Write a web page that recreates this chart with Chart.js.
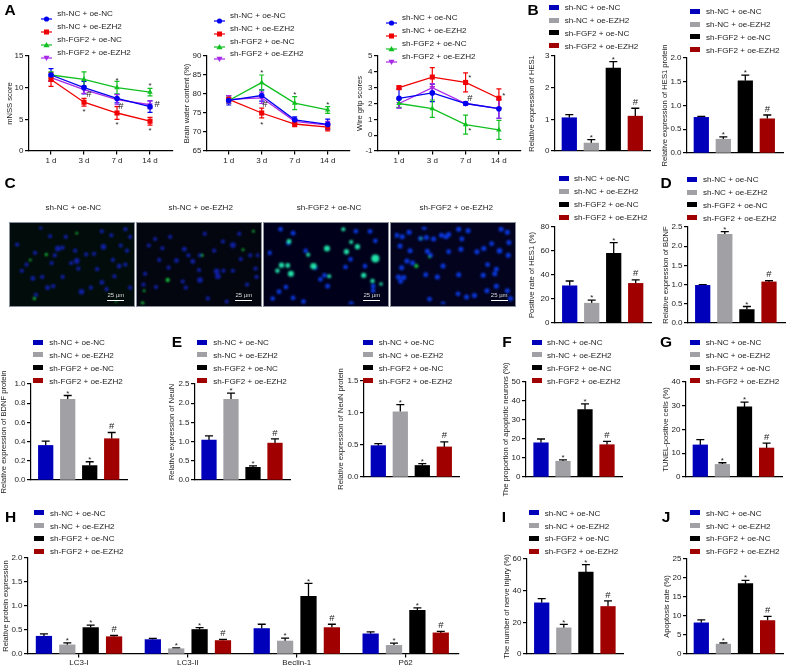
<!DOCTYPE html>
<html>
<head>
<meta charset="utf-8">
<title>Panels A-J</title>
<script src="https://cdn.jsdelivr.net/npm/chart.js@4/dist/chart.umd.min.js"></script>
<style>
  html, body { margin: 0; padding: 0; background: #fff; }
  #page { position: relative; width: 786px; height: 666px; overflow: hidden; filter: blur(0.3px); }
  #page canvas { position: absolute; left: 0; top: 0; }
  .t { position: absolute; white-space: nowrap; font: 8.1px "Liberation Sans", Arial, sans-serif; color: #1c1c1c; transform: translateY(-50%); }
  .c { transform: translate(-50%, -50%); }
  .letter { font: bold 15.5px "Liberation Sans", Arial, sans-serif; color: #000; }
  .micro { position: absolute; overflow: hidden; box-sizing: border-box; }
  .micro canvas { filter: blur(0.8px); }
</style>
</head>
<body>
<div id="page"></div>
<script>
// ---- shared labels
const groupNames = ['sh-NC + oe-NC', 'sh-NC + oe-EZH2', 'sh-FGF2 + oe-NC', 'sh-FGF2 + oe-EZH2'];
const dayLabels = ['1 d', '3 d', '7 d', '14 d'];
const proteinLabels = ['LC3-I', 'LC3-II', 'Beclin-1', 'P62'];
const lineColors = ['#0000f0', '#f00000', '#10c020', '#a828e8'];
const barColors = ['#0000bb', '#a1a1a5', '#000000', '#a00000'];

// ---- A: mNSS
const mnssBlue = [12, 10, 8.3, 7.0];
const mnssRed = [11.3, 7.7, 6.0, 4.7];
const mnssGreen = [12, 11.3, 10, 9.3];
const mnssPurple = [11.6, 9.7, 8.1, 7.3];
const mnssBlueErr = [1.0, 1.0, 0.7, 0.9];
const mnssRedErr = [1.1, 0.6, 1.0, 0.6];
const mnssGreenErr = [0.5, 1.2, 1.0, 0.6];
const mnssPurpleErr = [0.5, 0.6, 0.8, 0.6];
const mnssMarks = [['*', 1, 6.4], ['#', 1.15, 9.0], ['*', 2, 11.4], ['#', 2.12, 7.1], ['*', 2, 4.4], ['*', 3, 10.5], ['*', 3, 3.4], ['#', 3.22, 7.4]];

// ---- A: brain water
const waterBlue = [78.3, 79.6, 73.2, 72.0];
const waterRed = [78.6, 75.0, 72.1, 71.3];
const waterGreen = [78.3, 83.0, 77.6, 75.8];
const waterPurple = [78.6, 79.0, 72.8, 71.8];
const waterBlueErr = [1.2, 1.5, 0.8, 1.4];
const waterRedErr = [1.0, 1.3, 0.7, 1.0];
const waterGreenErr = [0.8, 2.0, 1.7, 0.9];
const waterPurpleErr = [1.0, 1.5, 0.8, 1.0];
const waterMarks = [['*', 1, 86], ['*', 1, 72.4], ['#', 1.1, 77.3], ['*', 2, 80.3], ['*', 3, 77.5]];

// ---- A: wire grip
const gripBlue = [2.33, 2.67, 2.0, 1.67];
const gripRed = [3.0, 3.67, 3.33, 2.33];
const gripGreen = [2.0, 1.67, 0.67, 0.33];
const gripPurple = [2.0, 3.0, 2.0, 1.67];
const gripBlueErr = [0.6, 0.55, 0.1, 0.6];
const gripRedErr = [0.1, 0.6, 0.6, 0.6];
const gripGreenErr = [0.25, 0.55, 0.6, 0.6];
const gripPurpleErr = [0.3, 0.25, 0.1, 0.6];
const gripMarks = [['*', 2.13, 3.7], ['#', 2.13, 2.3], ['*', 2.13, 0.36], ['*', 3.15, 2.55]];

// ---- bar panels: mean, top of error bar, annotation
const hes1Values = [1.05, 0.25, 2.62, 1.1];
const hes1Tops = [1.15, 0.36, 2.82, 1.35];
const hes1Marks = ['', '*', '*', '#'];
const hes1ProteinValues = [0.75, 0.29, 1.52, 0.72];
const hes1ProteinTops = [0.77, 0.34, 1.64, 0.80];
const hes1ProteinMarks = ['', '*', '*', '#'];
const positiveValues = [31, 16.5, 58, 33];
const positiveTops = [35, 19, 67, 36];
const positiveMarks = ['', '*', '*', '#'];
const bdnfValues = [0.98, 2.31, 0.35, 1.07];
const bdnfTops = [1.0, 2.38, 0.43, 1.10];
const bdnfMarks = ['', '*', '*', '#'];
const bdnfProteinValues = [0.36, 0.84, 0.15, 0.43];
const bdnfProteinTops = [0.405, 0.88, 0.19, 0.495];
const bdnfProteinMarks = ['', '*', '*', '#'];
const neunValues = [1.04, 2.1, 0.33, 0.96];
const neunTops = [1.15, 2.26, 0.37, 1.07];
const neunMarks = ['', '*', '*', '#'];
const neunProteinValues = [0.49, 1.02, 0.18, 0.47];
const neunProteinTops = [0.52, 1.13, 0.21, 0.55];
const neunProteinMarks = ['', '*', '*', '#'];
const apoptoticValues = [18, 8.3, 35.5, 17];
const apoptoticTops = [20, 9, 38.5, 18.7];
const apoptoticMarks = ['', '*', '*', '#'];
const tunelValues = [13.5, 5.3, 29.5, 12.2];
const tunelTops = [15.7, 6, 31.5, 14.3];
const tunelMarks = ['', '*', '*', '#'];
const injuryValues = [32.3, 16.5, 51.7, 30];
const injuryTops = [35, 18.7, 56.5, 33.5];
const injuryMarks = ['', '*', '*', '#'];
const apoptosisValues = [8.2, 2.6, 18.5, 8.8];
const apoptosisTops = [9, 2.9, 19.4, 9.9];
const apoptosisMarks = ['', '*', '*', '#'];

// ---- H, one list per protein
const lc3iValues = [0.37, 0.19, 0.55, 0.36];
const lc3iTops = [0.42, 0.23, 0.60, 0.385];
const lc3iiValues = [0.30, 0.11, 0.51, 0.28];
const lc3iiTops = [0.325, 0.125, 0.55, 0.305];
const beclinValues = [0.53, 0.27, 1.2, 0.55];
const beclinTops = [0.62, 0.33, 1.47, 0.62];
const p62Values = [0.42, 0.18, 0.91, 0.44];
const p62Tops = [0.46, 0.225, 0.96, 0.47];
const proteinMarks = ['', '*', '*', '#'];

const cells1Blue = [[145,78,3.5],[160,75],[290,72,3.5],[205,118,3.5],[187,125],[65,175,3],[112,205,3],[130,200],[220,218,3.5],[75,228],[285,188,3],[340,135,3],[365,85],[345,68],[120,38],[285,22],[360,15],[315,35],[72,92],[30,150],[95,170],[160,170],[210,143],[270,145],[325,168],[235,97],[260,95],[200,85],[45,130],[125,125],[320,115],[170,40],[15,65],[375,40],[360,130],[375,205],[300,210],[250,205],[90,10],[135,100]];
const cells1Green = [[205,28,1.2],[108,97,1.5],[57,115,1.2],[330,250,1],[70,240,1.5]];
const cells2Blue = [[432,47],[412,68],[455,77],[525,80,3],[538,100],[500,117,3],[552,120,3],[445,115],[575,100],[680,67,3.5],[648,55],[620,85],[705,112],[628,152,3.5],[632,168,3.5],[575,180,3.5],[520,185],[530,205],[435,203],[395,195],[752,143],[755,170],[725,195],[600,240],[660,250],[650,150],[480,40],[590,30],[700,30],[760,100],[735,100],[475,140],[572,148],[680,150],[400,160]];
const cells2Green = [[745,22,1.2],[712,82,1.3],[582,100,1.3],[472,180,2],[397,215,1.2],[392,256,1.8]];
const cells3Blue = [[85,28,3],[70,60,3],[330,22,3],[285,22],[347,53],[125,85],[268,113],[314,135],[252,138],[172,178],[185,165],[195,200,3],[340,200],[20,240],[85,238],[118,250,3],[270,258,3.5],[340,215],[10,92],[45,15],[40,218,3],[62,203],[155,140,3]];
const cells3Green = [[72,55,2.4],[193,78,3],[255,88,2.6],[290,72,2.6],[270,57,2],[133,98,2],[48,132,2.6],[68,133,2.4],[35,150,2.2],[78,160,3],[150,135,3.2],[347,110,4],[310,165,2.6],[338,183,2.2],[365,193,1.8],[200,168,2],[245,15,2]];
const cells4Blue = [[392,35],[410,40],[432,25],[487,42],[468,45],[510,47],[535,35],[558,32],[550,40],[600,47,3],[590,15],[620,20],[725,15],[745,25],[695,62,3],[720,85,3.5],[748,100],[750,58],[403,70],[435,85],[490,87],[558,88,3],[597,80],[648,88],[670,78],[425,118],[443,125],[408,140],[485,163,3],[522,170],[590,163],[540,135],[682,130,3],[710,145,3],[705,160],[668,165],[415,172],[398,170],[405,185,3],[710,200],[680,215],[640,230],[615,235],[588,225,3],[497,242,3],[540,258],[745,215],[755,240],[480,10],[500,100]];
const cells4Green = [[455,135,2],[497,105,1.2],[470,45,1.2]];

// ---- draws error bars and the * / # annotations through the scales
const marksPlugin = {
    id: 'marksPlugin',
    beforeDatasetsDraw(chart) {
        const ctx = chart.ctx;
        const yScale = chart.scales.y;
        ctx.save();
        chart.data.datasets.forEach((ds, d) => {
            const pts = chart.getDatasetMeta(d).data;
            if (ds.errs) {
                ctx.strokeStyle = ds.borderColor;
                ctx.lineWidth = 1.2;
                pts.forEach((pt, i) => {
                    const hi = yScale.getPixelForValue(ds.data[i].y + ds.errs[i]);
                    const lo = yScale.getPixelForValue(ds.data[i].y - ds.errs[i]);
                    ctx.beginPath();
                    ctx.moveTo(pt.x, hi); ctx.lineTo(pt.x, lo);
                    ctx.moveTo(pt.x - 2.5, hi); ctx.lineTo(pt.x + 2.5, hi);
                    ctx.moveTo(pt.x - 2.5, lo); ctx.lineTo(pt.x + 2.5, lo);
                    ctx.stroke();
                });
            }
            if (ds.tops) {
                ctx.strokeStyle = '#000';
                ctx.lineWidth = 1.3;
                pts.forEach((pt, i) => {
                    const hi = yScale.getPixelForValue(ds.tops[i]);
                    ctx.beginPath();
                    ctx.moveTo(pt.x, pt.y); ctx.lineTo(pt.x, hi);
                    ctx.moveTo(pt.x - 4, hi); ctx.lineTo(pt.x + 4, hi);
                    ctx.stroke();
                });
            }
        });
        ctx.restore();
    },
    afterDatasetsDraw(chart) {
        const ctx = chart.ctx;
        const yScale = chart.scales.y;
        ctx.save();
        ctx.fillStyle = '#222';
        ctx.textAlign = 'center';
        ctx.textBaseline = 'middle';
        const put = (text, x, y) => {
            ctx.font = (text === '#' ? 9.5 : 8) + 'px "Liberation Sans", Arial, sans-serif';
            ctx.fillText(text, x, text === '#' ? y : y + 1.5);
        };
        chart.data.datasets.forEach((ds, d) => {
            if (!ds.marks) return;
            chart.getDatasetMeta(d).data.forEach((pt, i) => {
                const hi = yScale.getPixelForValue(ds.tops[i]);
                if (ds.marks[i]) put(ds.marks[i], pt.x, hi - (ds.marks[i] === '#' ? 6 : 3.5));
            });
        });
        (chart.options.lineMarks || []).forEach(m => {
            put(m[0], chart.scales.x.getPixelForValue(m[1]), yScale.getPixelForValue(m[2]));
        });
        ctx.restore();
    }
};
Chart.register(marksPlugin);

const page = document.getElementById('page');
const axisFont = { family: '"Liberation Sans", Arial, sans-serif', size: 8 };
const xAxisHeight = 12;

function addText(x, y, str, cls) {
    const el = document.createElement('div');
    el.className = 't ' + (cls || '');
    el.style.left = x + 'px';
    el.style.top = y + 'px';
    el.textContent = str;
    page.appendChild(el);
}

function addCanvas() {
    const c = document.createElement('canvas');
    c.width = 786;
    c.height = 666;
    c.style.width = '786px';
    c.style.height = '666px';
    page.appendChild(c);
    return c;
}

// y axis shared by the line and bar panels; titleX is where the rotated title sits
function yAxis(p) {
    const left = Math.max(0, Math.round(p.titleX - 4));
    return {
        left: left,
        scale: {
            position: 'left',
            min: p.yMin || 0,
            max: p.yMax,
            afterFit: s => { s.width = p.axisX - left; },
            border: { color: '#000', width: 1.2 },
            grid: { drawOnChartArea: false, color: '#000', lineWidth: 1.2, tickLength: 4 },
            ticks: {
                stepSize: p.yStep, padding: 1.5, color: '#1c1c1c', font: axisFont,
                callback: v => v.toFixed(p.dec || 0)
            },
            title: { display: true, text: p.title, color: '#1c1c1c', font: { ...axisFont, size: 7.6, lineHeight: 1 }, padding: 0 }
        }
    };
}

function xAxis(p, labels, positions) {
    const scale = {
        type: 'linear',
        offset: false,
        min: (p.axisX - p.c0) / p.step,
        max: (p.right - p.c0) / p.step,
        afterFit: s => { s.height = xAxisHeight; },
        border: { color: '#000', width: 1.2 },
        grid: { display: false, offset: false },
        ticks: { display: false }
    };
    if (labels) {
        scale.afterBuildTicks = s => { s.ticks = positions.map(v => ({ value: v })); };
        scale.grid = { drawOnChartArea: false, offset: false, color: '#000', lineWidth: 1.2, tickLength: 3.5 };
        scale.ticks = {
            display: true, autoSkip: false, maxRotation: 0, padding: p.xPad === undefined ? 1.8 : p.xPad, color: '#1c1c1c', font: axisFont,
            callback: v => labels[positions.indexOf(v)]
        };
    }
    return scale;
}

function baseOptions(p, y, x) {
    return {
        responsive: false,
        animation: false,
        devicePixelRatio: 1,
        layout: { padding: { left: y.left, top: p.top, right: 786 - p.right, bottom: 666 - p.bottom - xAxisHeight } },
        plugins: { legend: { display: false }, tooltip: { enabled: false } },
        scales: { x: x, y: y.scale }
    };
}

function linePanel(p) {
    const y = yAxis(p);
    const x = xAxis(p, dayLabels, [0, 1, 2, 3]);
    const opts = baseOptions(p, y, x);
    opts.lineMarks = p.marks;
    const styles = [
        { pointStyle: 'circle', pointRadius: 2.8 },
        { pointStyle: 'rect', pointRadius: 3.6 },
        { pointStyle: 'triangle', pointRadius: 3.2 },
        { pointStyle: 'triangle', pointRadius: 3.2, pointRotation: 180 }
    ];
    new Chart(addCanvas(), {
        type: 'line',
        data: {
            datasets: p.series.map((vals, s) => ({
                data: vals.map((v, i) => ({ x: i, y: v })),
                errs: p.errs[s],
                borderColor: lineColors[s],
                backgroundColor: lineColors[s],
                pointBackgroundColor: lineColors[s],
                pointBorderWidth: 0,
                borderWidth: 1.3,
                tension: 0,
                clip: false,
                ...styles[s]
            }))
        },
        options: opts
    });
}

function barPanel(p) {
    const y = yAxis(p);
    const x = xAxis(p, p.xLabels, p.xTicks);
    const positions = p.xs || p.values.map((v, i) => i);
    new Chart(addCanvas(), {
        type: 'bar',
        data: {
            datasets: [{
                data: p.values.map((v, i) => ({ x: positions[i], y: v })),
                tops: p.tops,
                marks: p.marks,
                backgroundColor: p.values.map((v, i) => barColors[i % 4]),
                borderWidth: 0,
                barThickness: p.barWidth || 14.6
            }]
        },
        options: baseOptions(p, y, x)
    });
}

// legend: kind 'line' gets a line + marker, otherwise a flat swatch
function addLegend(swatchX, textX, rows, kind) {
    groupNames.forEach((name, i) => {
        const yy = rows[i];
        addText(textX, yy, name);
        if (kind === 'line') {
            const c = lineColors[i];
            const mx = 5.5, my = 4;
            const shape = [
                `<circle cx="${mx}" cy="${my}" r="2.6" fill="${c}"/>`,
                `<rect x="${mx - 2.5}" y="${my - 2.5}" width="5" height="5" fill="${c}"/>`,
                `<polygon points="${mx},${my - 3} ${mx + 3},${my + 2.2} ${mx - 3},${my + 2.2}" fill="${c}"/>`,
                `<polygon points="${mx},${my + 3} ${mx + 3},${my - 2.2} ${mx - 3},${my - 2.2}" fill="${c}"/>`
            ][i];
            const box = document.createElement('div');
            box.style.cssText = `position:absolute;left:${swatchX}px;top:${yy - 4}px;width:11px;height:8px;`;
            box.innerHTML = `<svg width="11" height="8"><line x1="0" y1="4" x2="11" y2="4" stroke="${c}" stroke-width="1.2"/>${shape}</svg>`;
            page.appendChild(box);
        } else {
            const sw = document.createElement('div');
            sw.style.cssText = `position:absolute;left:${swatchX}px;top:${yy - 2.5}px;width:10px;height:5px;background:${barColors[i]};`;
            page.appendChild(sw);
        }
    });
}

// ---- row 1: A
linePanel({ axisX: 29, top: 56, bottom: 151, right: 173, c0: 51, step: 33, yMax: 15, yStep: 5, titleX: 9.5,
    title: 'mNSS score', series: [mnssBlue, mnssRed, mnssGreen, mnssPurple],
    errs: [mnssBlueErr, mnssRedErr, mnssGreenErr, mnssPurpleErr], marks: mnssMarks });
linePanel({ axisX: 207, top: 56, bottom: 151, right: 350, c0: 228.7, step: 33, yMin: 65, yMax: 90, yStep: 5, titleX: 187,
    title: 'Brain water content (%)', series: [waterBlue, waterRed, waterGreen, waterPurple],
    errs: [waterBlueErr, waterRedErr, waterGreenErr, waterPurpleErr], marks: waterMarks });
linePanel({ axisX: 378, top: 56, bottom: 151, right: 521, c0: 399, step: 33.3, yMin: -1, yMax: 5, yStep: 1, titleX: 360,
    title: 'Wire grip scores', series: [gripBlue, gripRed, gripGreen, gripPurple],
    errs: [gripBlueErr, gripRedErr, gripGreenErr, gripPurpleErr], marks: gripMarks });
addLegend(41, 57.3, [13.3, 26.3, 39, 52], 'line');
addLegend(213.5, 230, [15, 28, 40.7, 53.3], 'line');
addLegend(385.5, 402, [17, 29.7, 42.7, 55.7], 'line');

// ---- row 1: B
barPanel({ axisX: 555, top: 56, bottom: 151, right: 650, c0: 569.3, step: 22, yMax: 3, yStep: 1, titleX: 532.3,
    title: 'Relative expression of HES1', values: hes1Values, tops: hes1Tops, marks: hes1Marks });
barPanel({ axisX: 687, top: 58, bottom: 153, right: 783, c0: 701.3, step: 22, yMax: 2, yStep: 0.5, dec: 1, titleX: 665,
    title: 'Relative expression of HES1 protein', values: hes1ProteinValues, tops: hes1ProteinTops, marks: hes1ProteinMarks });
addLegend(549.3, 564.7, [7.3, 20, 32.7, 45.7]);
addLegend(690, 706, [11, 24, 36.7, 49.7]);

// ---- row 2: C micrographs
const microPanels = [
    { x: 9, w: 126, bg: '#020c0a', blue: cells1Blue, green: cells1Green, min: 5, label: groupNames[0], cx: 73.3, bar: 107.3, cellColor: '#1020a8', dot: 2.1 },
    { x: 136, w: 126, bg: '#03060e', blue: cells2Blue, green: cells2Green, min: 387, label: groupNames[1], cx: 200.7, bar: 235.3, cellColor: '#1020a8', dot: 2.1 },
    { x: 263, w: 126, bg: '#00001a', blue: cells3Blue, green: cells3Green, min: 5, label: groupNames[2], cx: 329, bar: 363.3, cellColor: '#0a38e0', dot: 2.3 },
    { x: 390, w: 126, bg: '#03031e', blue: cells4Blue, green: cells4Green, min: 387, label: groupNames[3], cx: 456.3, bar: 490.7, cellColor: '#0a38e0', dot: 2.5 }
];
microPanels.forEach((m, idx) => {
    const wrap = document.createElement('div');
    wrap.className = 'micro';
    wrap.style.cssText = `left:${m.x}px;top:222px;width:${m.w}px;height:85px;background:${m.bg};border:1px solid #8a8f9c;`;
    page.appendChild(wrap);
    const c = document.createElement('canvas');
    c.width = m.w;
    c.height = 85;
    wrap.appendChild(c);
    const toPoints = (list, fallback) => list.map(a => ({ x: a[0], y: a[1], r: a[2] ? a[2] * (fallback === 0 ? 1 : 0.8) : fallback || 1.5 }));
    new Chart(c, {
        type: 'bubble',
        data: {
            datasets: [
                { data: toPoints(m.green, 0), backgroundColor: idx === 2 ? '#20e0a8' : '#18d040', borderWidth: 0 },
                { data: toPoints(m.blue, m.dot), backgroundColor: m.cellColor, borderWidth: 0 }
            ]
        },
        options: {
            responsive: false, animation: false, devicePixelRatio: 1,
            layout: { padding: 0 },
            plugins: { legend: { display: false }, tooltip: { enabled: false } },
            scales: {
                x: { display: false, min: m.min, max: m.min + 376 },
                y: { display: false, min: 8, max: 258, reverse: true }
            }
        }
    });
    addText(m.cx, 207.3, m.label, 'c');
    const bar = document.createElement('div');
    bar.style.cssText = `position:absolute;left:${m.bar}px;top:299.5px;width:17px;height:1.6px;background:#fff;`;
    page.appendChild(bar);
    const lab = document.createElement('div');
    lab.className = 't c';
    lab.style.cssText = `left:${m.bar + 8.5}px;top:295px;font-size:6px;color:#ddd;`;
    lab.textContent = '25 µm';
    page.appendChild(lab);
});

// ---- row 2: positive rate, D
barPanel({ axisX: 555, top: 227, bottom: 323, right: 651, c0: 569.7, step: 22, yMax: 80, yStep: 20, titleX: 532.3,
    title: 'Positive rate of HES1 (%)', values: positiveValues, tops: positiveTops, marks: positiveMarks });
barPanel({ axisX: 688, top: 227, bottom: 323, right: 785, c0: 702.7, step: 22.1, yMax: 2.5, yStep: 0.5, dec: 1, titleX: 665.7,
    title: 'Relative expression of BDNF', values: bdnfValues, tops: bdnfTops, marks: bdnfMarks });
addLegend(558.7, 574, [178.3, 191, 204.3, 217.3]);
addLegend(687.3, 703, [179, 192, 204.7, 217.7]);

// ---- row 3
barPanel({ axisX: 31, top: 384, bottom: 480, right: 127, c0: 45.7, step: 22, yMax: 1, yStep: 0.2, dec: 1, titleX: 4,
    title: 'Relative expression of BDNF protein', values: bdnfProteinValues, tops: bdnfProteinTops, marks: bdnfProteinMarks });
barPanel({ axisX: 195, top: 384, bottom: 480, right: 290, c0: 209, step: 22, yMax: 2.5, yStep: 0.5, dec: 1, titleX: 172.3,
    title: 'Relative expression of NeuN', values: neunValues, tops: neunTops, marks: neunMarks });
barPanel({ axisX: 364, top: 381, bottom: 477, right: 459, c0: 378.3, step: 22, yMax: 1.5, yStep: 0.5, dec: 1, titleX: 341,
    title: 'Relative expression of NeuN protein', values: neunProteinValues, tops: neunProteinTops, marks: neunProteinMarks });
barPanel({ axisX: 526, top: 382, bottom: 477, right: 622, c0: 541, step: 22, yMax: 50, yStep: 10, titleX: 506,
    title: 'The proportion of apoptotic neurons (%)', values: apoptoticValues, tops: apoptoticTops, marks: apoptoticMarks });
barPanel({ axisX: 686, top: 382, bottom: 477, right: 782, c0: 700.3, step: 22.1, yMax: 40, yStep: 10, titleX: 665.7,
    title: 'TUNEL-positive cells (%)', values: tunelValues, tops: tunelTops, marks: tunelMarks });
const row3Legend = [342, 354.7, 367.7, 380.7];
addLegend(33.3, 49.3, row3Legend);
addLegend(197.3, 213.3, row3Legend);
addLegend(362.7, 378.7, row3Legend);
addLegend(531.7, 547, row3Legend);
addLegend(690, 705.7, row3Legend);

// ---- row 4: H, bars sit around each protein's tick
const proteinGroups = [lc3iValues, lc3iiValues, beclinValues, p62Values];
const proteinTopGroups = [lc3iTops, lc3iiTops, beclinTops, p62Tops];
const groupTicks = [0, 1, 2, 3];
const barOffset = 0.2147;
barPanel({ axisX: 28, top: 558, bottom: 654, right: 459, c0: 79, step: 108.9, yMax: 2, yStep: 0.5, dec: 1, titleX: 6,
    title: 'Relative protein expression', barWidth: 15.6, xPad: 0.5,
    values: proteinGroups.flat(), tops: proteinTopGroups.flat(),
    marks: proteinGroups.flatMap(() => proteinMarks),
    xs: groupTicks.flatMap(g => [0, 1, 2, 3].map(s => g + (s - 1.5) * barOffset)),
    xLabels: proteinLabels, xTicks: groupTicks });
barPanel({ axisX: 527, top: 559, bottom: 654, right: 623, c0: 541.7, step: 22.1, yMax: 60, yStep: 20, titleX: 507.3,
    title: 'The number of nerve injury (%)', values: injuryValues, tops: injuryTops, marks: injuryMarks });
barPanel({ axisX: 687, top: 559, bottom: 654, right: 783, c0: 701.3, step: 22.1, yMax: 25, yStep: 5, titleX: 666.7,
    title: 'Apoptosis rate (%)', values: apoptosisValues, tops: apoptosisTops, marks: apoptosisMarks });
const row4Legend = [512.7, 525.7, 538.3, 551.3];
addLegend(34.3, 50, row4Legend);
addLegend(529, 544.7, row4Legend);
addLegend(690, 706, row4Legend);

// ---- panel letters
[['A', 10, 10], ['B', 533, 10], ['C', 10, 183], ['D', 666, 183], ['E', 177, 342], ['F', 507, 342],
 ['G', 666, 342], ['H', 10.7, 517], ['I', 504, 517], ['J', 666, 517]].forEach(l => addText(l[1], l[2], l[0], 'c letter'));
</script>
</body>
</html>
